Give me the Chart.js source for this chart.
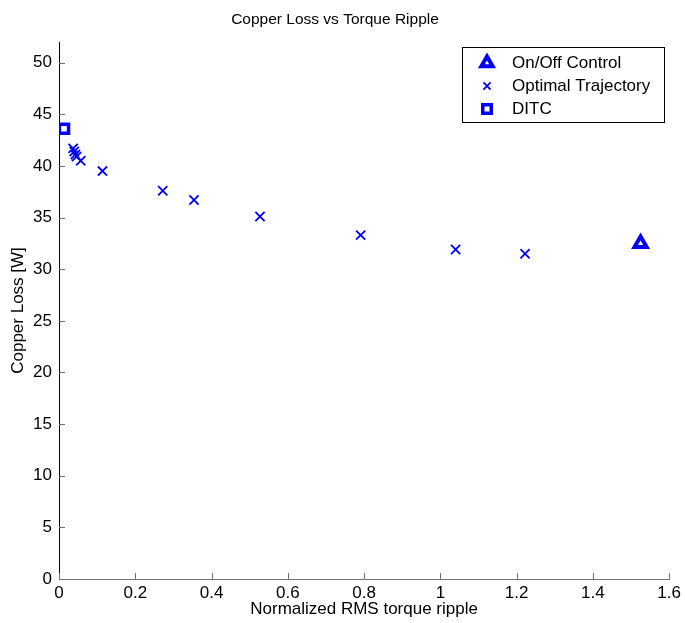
<!DOCTYPE html>
<html>
<head>
<meta charset="utf-8">
<script src="https://cdn.jsdelivr.net/npm/chart.js@4"></script>
<style>
  html, body { margin: 0; padding: 0; background: #fff; }
  #wrap { width: 685px; height: 623px; }
</style>
</head>
<body>
<div id="wrap"><canvas id="plot"></canvas></div>
<script>
const seriesNames = ['On/Off Control', 'Optimal Trajectory', 'DITC'];
const onOffX = [1.525];
const onOffY = [32.5];
const optX = [0.037, 0.040, 0.043, 0.046, 0.057, 0.114, 0.272, 0.354, 0.527, 0.791, 1.040, 1.222];
const optY = [41.7, 41.4, 41.1, 40.9, 40.5, 39.5, 37.6, 36.7, 35.1, 33.3, 31.9, 31.5];
const ditcX = [0.013];
const ditcY = [43.6];
const xTicks = [0, 0.2, 0.4, 0.6, 0.8, 1, 1.2, 1.4, 1.6];
const yTicks = [0, 5, 10, 15, 20, 25, 30, 35, 40, 45, 50];

const pts = (xs, ys) => xs.map((x, i) => ({x: x, y: ys[i]}));
const blue = '#0000ff';
const FONT = 'Arial, "Liberation Sans", sans-serif';

// MATLAB style ticks pointing into the axes
const innerTicks = {
  id: 'innerTicks',
  afterDraw(chart) {
    const {ctx, chartArea: a, scales} = chart;
    ctx.save();
    ctx.strokeStyle = '#707070';
    ctx.lineWidth = 1;
    xTicks.forEach(v => {
      const px = Math.round(scales.x.getPixelForValue(v)) + 0.5;
      ctx.beginPath(); ctx.moveTo(px, a.bottom); ctx.lineTo(px, a.bottom - 6); ctx.stroke();
    });
    yTicks.forEach(v => {
      const py = Math.round(scales.y.getPixelForValue(v)) + 0.5;
      ctx.beginPath(); ctx.moveTo(a.left, py); ctx.lineTo(a.left + 6, py); ctx.stroke();
    });
    ctx.restore();
  }
};

// legend box inside the axes, top right
const boxLegend = {
  id: 'boxLegend',
  afterDraw(chart) {
    const ctx = chart.ctx;
    const bx = 462.5, by = 47.5, bw = 202, bh = 75;
    const rows = [63, 86, 109];
    ctx.save();
    ctx.fillStyle = '#fff';
    ctx.strokeStyle = '#000';
    ctx.lineWidth = 1;
    ctx.fillRect(bx, by, bw, bh);
    ctx.strokeRect(bx, by, bw, bh);
    chart.data.datasets.forEach((ds, i) => {
      ctx.strokeStyle = ds.borderColor;
      ctx.fillStyle = 'rgba(0,0,0,0)';
      ctx.lineWidth = ds.borderWidth;
      Chart.helpers.drawPoint(ctx, {
        pointStyle: ds.pointStyle,
        radius: ds.legendRadius,
        rotation: 0,
        borderWidth: ds.borderWidth
      }, 487, rows[i]);
      ctx.fillStyle = '#000';
      ctx.font = '17px ' + FONT;
      ctx.textBaseline = 'middle';
      ctx.textAlign = 'left';
      ctx.fillText(ds.label, 512, rows[i]);
    });
    ctx.restore();
  }
};

new Chart(document.getElementById('plot'), {
  type: 'scatter',
  data: {
    datasets: [
      {
        label: seriesNames[0],
        data: pts(onOffX, onOffY),
        pointStyle: 'triangle',
        pointRadius: 7,
        legendRadius: 6.5,
        borderWidth: 4,
        borderColor: blue,
        backgroundColor: 'rgba(0,0,0,0)'
      },
      {
        label: seriesNames[1],
        data: pts(optX, optY),
        pointStyle: 'crossRot',
        pointRadius: 6.5,
        legendRadius: 5,
        borderWidth: 1.8,
        borderColor: blue,
        backgroundColor: blue
      },
      {
        label: seriesNames[2],
        data: pts(ditcX, ditcY),
        pointStyle: 'rect',
        pointRadius: 6.5,
        legendRadius: 6,
        borderWidth: 3.5,
        borderColor: blue,
        backgroundColor: 'rgba(0,0,0,0)'
      }
    ]
  },
  options: {
    responsive: true,
    maintainAspectRatio: false,
    animation: false,
    events: [],
    layout: { padding: { left: 0, right: 15, top: 0, bottom: 0 } },
    plugins: {
      legend: { display: false },
      tooltip: { enabled: false },
      title: {
        display: true,
        text: 'Copper Loss vs Torque Ripple',
        color: '#000',
        font: { family: FONT, size: 15.5, weight: 'normal' },
        padding: { top: 10, bottom: 13.4 }
      }
    },
    scales: {
      x: {
        type: 'linear',
        min: 0,
        max: 1.6,
        afterBuildTicks: s => { s.ticks = xTicks.map(v => ({value: v})); },
        afterFit: s => { s.height = 44; },
        grid: { display: false, drawTicks: false },
        border: { display: true, color: '#707070', width: 1 },
        ticks: {
          color: '#000',
          font: { family: FONT, size: 17 },
          padding: 4,
          maxRotation: 0,
          callback: v => String(+Number(v).toFixed(1))
        },
        title: {
          display: true,
          text: 'Normalized RMS torque ripple',
          color: '#000',
          font: { family: FONT, size: 17 },
          padding: { top: 0, bottom: 3 }
        }
      },
      y: {
        type: 'linear',
        min: 0,
        max: 52,
        afterBuildTicks: s => { s.ticks = yTicks.map(v => ({value: v})); },
        afterFit: s => { s.width = 59; },
        grid: { display: false, drawTicks: false },
        border: { display: true, color: '#000', width: 1 },
        ticks: {
          color: '#000',
          font: { family: FONT, size: 17 },
          padding: 7
        },
        title: {
          display: true,
          text: 'Copper Loss [W]',
          color: '#000',
          font: { family: FONT, size: 17 },
          padding: { top: 8, bottom: 0 }
        }
      }
    }
  },
  plugins: [innerTicks, boxLegend]
});
</script>
</body>
</html>
